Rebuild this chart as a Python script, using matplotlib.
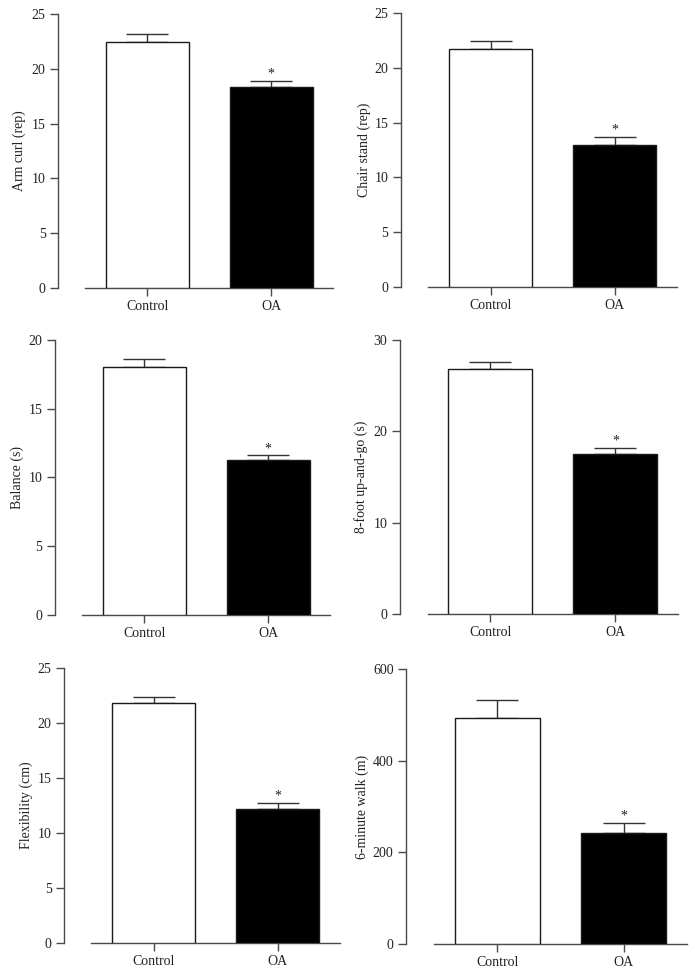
import matplotlib
matplotlib.use("Agg")
import matplotlib.pyplot as plt

plt.rcParams['font.family'] = ['Liberation Serif', 'DejaVu Serif']

groups = ["Control", "OA"]

arm_curl = [22.4, 18.3]
arm_curl_err = [0.8, 0.6]

chair_stand = [21.7, 13.0]
chair_stand_err = [0.75, 0.7]

balance = [18.0, 11.27]
balance_err = [0.6, 0.35]

up_and_go = [26.86, 17.5]
up_and_go_err = [0.75, 0.7]

flexibility = [21.8, 12.2]
flexibility_err = [0.55, 0.55]

six_min_walk = [493, 243]
six_min_walk_err = [40, 21]

ylabels = ["Arm curl (rep)", "Chair stand (rep)", "Balance (s)",
           "8-foot up-and-go (s)", "Flexibility (cm)", "6-minute walk (m)"]
ymaxes = [25, 25, 20, 30, 25, 600]
ysteps = [5, 5, 5, 10, 5, 200]
significant = ["", "*"]

panels = [
    (arm_curl, arm_curl_err),
    (chair_stand, chair_stand_err),
    (balance, balance_err),
    (up_and_go, up_and_go_err),
    (flexibility, flexibility_err),
    (six_min_walk, six_min_walk_err),
]

W, H = 695, 973
# pixel layout: (left spine x, right end of x-axis, y pixel of zero, y pixel of ymax, ylabel centre x)
layout = [
    (58, 333, 288.0, 14.0, 19),
    (401, 677, 287.3, 12.7, 364),
    (55, 330, 614.7, 340.0, 17),
    (400, 678, 614.3, 340.0, 361),
    (64, 340, 942.7, 668.3, 26),
    (406, 687, 944.0, 669.0, 362),
]

fig = plt.figure(figsize=(W / 100, H / 100), dpi=100)
axis_color = "#4a4a4a"

for (vals, errs), ylab, ymax, ystep, (L, R, y0, yt, lx) in zip(
        panels, ylabels, ymaxes, ysteps, layout):
    ax = fig.add_axes([L / W, (H - y0) / H, (R - L) / W, (y0 - yt) / H])
    ax.patch.set_alpha(0)
    x = range(len(groups))
    ax.bar(x, vals, width=0.67, color=["white", "black"],
           edgecolor="#1a1a1a", linewidth=1.0, zorder=3)
    ax.errorbar(x, vals, yerr=[[0] * len(vals), errs], fmt="none",
                ecolor="#333333", elinewidth=1.0, capsize=15, capthick=1.0,
                zorder=2)
    for xi, v, e, s in zip(x, vals, errs, significant):
        if s:
            ax.annotate(s, (xi, v + e), xytext=(0, 0), textcoords="offset points",
                        ha="center", va="bottom", fontsize=10, color="#222222")
    ax.set_xlim(-0.72, 1.5)
    ax.set_ylim(0, ymax)
    ax.set_yticks(range(0, ymax + 1, ystep))
    ax.set_xticks(list(x))
    ax.set_xticklabels(groups)
    for sp in ["top", "right"]:
        ax.spines[sp].set_visible(False)
    ax.spines["bottom"].set_bounds(-0.5, 1.5)
    ax.spines["left"].set_bounds(0, ymax)
    for sp in ["bottom", "left"]:
        ax.spines[sp].set_color(axis_color)
        ax.spines[sp].set_linewidth(1.0)
    ax.tick_params(axis="y", direction="out", length=5.5, width=1.0,
                   color=axis_color, labelsize=10, pad=3.5, labelcolor="#222222")
    ax.tick_params(axis="x", direction="out", length=5.5, width=1.0,
                   color=axis_color, labelsize=10, pad=3, labelcolor="#222222")
    ax.set_ylabel(ylab, fontsize=10, color="#222222")
    ax.yaxis.label.set_va("center")
    ax.yaxis.set_label_coords((lx - L) / (R - L), 0.5)

fig.savefig("out.png", dpi=100)
